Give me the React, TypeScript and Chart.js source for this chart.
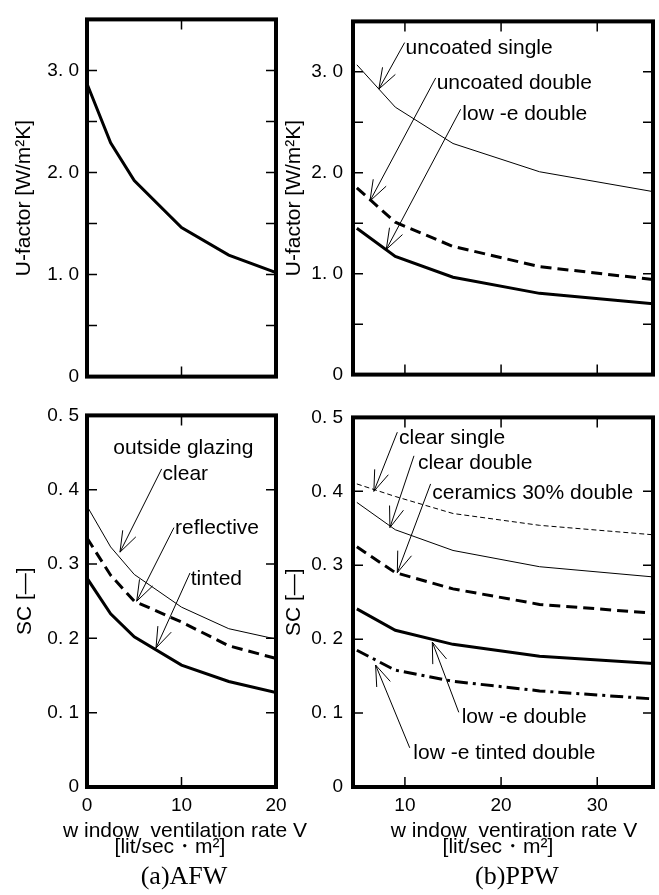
import React, { useEffect, useRef } from 'react';
import { Chart, registerables } from 'chart.js';

Chart.register(...registerables);

// ---------------- data ----------------
// (a) AFW
const AFW_V = [0, 2.5, 5, 10, 15, 20];
const AFW_U = [2.87, 2.29, 1.92, 1.46, 1.19, 1.02];
const AFW_SC_CLEAR = [0.378, 0.323, 0.286, 0.242, 0.213, 0.199];
const AFW_SC_REFLECTIVE = [0.335, 0.285, 0.25, 0.222, 0.19, 0.173];
const AFW_SC_TINTED = [0.281, 0.233, 0.202, 0.164, 0.142, 0.127];

// (b) PPW
const PPW_V = [5, 9, 15, 24, 36];
const PPW_U_UNCOATED_SINGLE = [3.07, 2.65, 2.29, 2.01, 1.81];
const PPW_U_UNCOATED_DOUBLE = [1.85, 1.51, 1.27, 1.07, 0.94];
const PPW_U_LOWE_DOUBLE = [1.45, 1.17, 0.965, 0.805, 0.7];
const PPW_SC_CLEAR_SINGLE = [0.41, 0.393, 0.37, 0.354, 0.341];
const PPW_SC_CLEAR_DOUBLE = [0.385, 0.348, 0.32, 0.298, 0.284];
const PPW_SC_CERAMICS = [0.325, 0.29, 0.268, 0.247, 0.235];
const PPW_SC_LOWE_DOUBLE = [0.241, 0.212, 0.193, 0.177, 0.167];
const PPW_SC_LOWE_TINTED = [0.185, 0.158, 0.143, 0.13, 0.119];

// ticks
const U_TICKS = [0, 0.5, 1, 1.5, 2, 2.5, 3, 3.5];
const U_TICK_LABELS = ['0', '', '1. 0', '', '2. 0', '', '3. 0', ''];
const SC_TICKS = [0, 0.1, 0.2, 0.3, 0.4, 0.5];
const SC_TICK_LABELS = ['0', '0. 1', '0. 2', '0. 3', '0. 4', '0. 5'];
const AFW_X_TICKS = [0, 10, 20];
const AFW_X_LABELS = ['0', '10', '20'];
const PPW_X_TICKS = [10, 20, 30];
const PPW_X_LABELS = ['10', '20', '30'];

// annotation texts (label anchor / arrow start / arrow tip, in axis units)
const PPW_U_NOTES = [
  { text: 'uncoated single', at: [10.07, 3.18], from: [9.97, 3.29], to: [7.29, 2.83] },
  { text: 'uncoated double', at: [13.3, 2.83], from: [13.2, 2.94], to: [6.36, 1.72] },
  { text: 'low -e double', at: [15.97, 2.52], from: [15.8, 2.63], to: [8.06, 1.24] },
];
const AFW_SC_NOTES = [
  { text: 'outside glazing', at: [2.79, 0.448] },
  { text: 'clear', at: [8.0, 0.4135], from: [7.9, 0.428], to: [3.49, 0.316] },
  { text: 'reflective', at: [9.31, 0.34], from: [9.2, 0.349], to: [5.26, 0.25] },
  { text: 'tinted', at: [10.97, 0.272], from: [10.9, 0.288], to: [7.3, 0.187] },
];
const PPW_SC_NOTES = [
  { text: 'clear single', at: [9.38, 0.4645], from: [9.21, 0.48], to: [6.77, 0.4] },
  { text: 'clear double', at: [11.35, 0.43], from: [10.94, 0.448], to: [8.44, 0.351] },
  { text: 'ceramics 30% double', at: [12.85, 0.39], from: [12.67, 0.41], to: [9.21, 0.29] },
  { text: 'low -e double', at: [15.9, 0.086], from: [15.6, 0.101], to: [12.85, 0.196] },
  { text: 'low -e tinted double', at: [10.87, 0.038], from: [10.5, 0.053], to: [6.95, 0.165] },
];

// ---------------- styles ----------------
const SANS = '"Liberation Sans", Arial, Helvetica, sans-serif';
const SERIF = '"Liberation Serif", "Times New Roman", Times, serif';
const THIN = { borderWidth: 1 };
const THICK = { borderWidth: 3 };
const DASHED = { borderWidth: 3, borderDash: [11, 6] };
const SHORTDASH = { borderWidth: 1, borderDash: [5, 3] };
const DASHDOT = { borderWidth: 3, borderDash: [13, 5, 3, 5] };

type Note = { text: string; at: number[]; from?: number[]; to?: number[] };
type Caption = { text: string; dx: number; dy: number; font: string };

const framePlugin = {
  id: 'frame',
  afterDatasetsDraw(chart: any) {
    const { ctx, chartArea: a, scales } = chart;
    const xs = scales.x;
    const ys = scales.y;
    const L = 10;
    ctx.save();
    ctx.strokeStyle = '#000';
    ctx.lineWidth = 1.5;
    ctx.beginPath();
    xs.ticks.forEach((t: any) => {
      const px = xs.getPixelForValue(t.value);
      ctx.moveTo(px, a.top);
      ctx.lineTo(px, a.top + L);
      ctx.moveTo(px, a.bottom);
      ctx.lineTo(px, a.bottom - L);
    });
    ys.ticks.forEach((t: any) => {
      const py = ys.getPixelForValue(t.value);
      ctx.moveTo(a.left, py);
      ctx.lineTo(a.left + L, py);
      ctx.moveTo(a.right, py);
      ctx.lineTo(a.right - L, py);
    });
    ctx.stroke();
    ctx.lineWidth = 4;
    ctx.strokeRect(a.left, a.top, a.right - a.left, a.bottom - a.top);
    ctx.restore();
  },
};

function notesPlugin(notes: Note[], captions: Caption[]) {
  return {
    id: 'notes',
    afterDraw(chart: any) {
      const { ctx, chartArea: a, scales } = chart;
      const xs = scales.x;
      const ys = scales.y;
      ctx.save();
      ctx.fillStyle = '#000';
      ctx.strokeStyle = '#000';
      ctx.lineWidth = 1;
      ctx.font = '21px ' + SANS;
      ctx.textAlign = 'left';
      ctx.textBaseline = 'alphabetic';
      notes.forEach((n) => {
        ctx.fillText(n.text, xs.getPixelForValue(n.at[0]), ys.getPixelForValue(n.at[1]));
        if (n.from && n.to) {
          const x1 = xs.getPixelForValue(n.from[0]);
          const y1 = ys.getPixelForValue(n.from[1]);
          const x2 = xs.getPixelForValue(n.to[0]);
          const y2 = ys.getPixelForValue(n.to[1]);
          const ang = Math.atan2(y1 - y2, x1 - x2);
          const len = 22;
          const h = 0.34;
          ctx.beginPath();
          ctx.moveTo(x1, y1);
          ctx.lineTo(x2, y2);
          ctx.moveTo(x2 + len * Math.cos(ang + h), y2 + len * Math.sin(ang + h));
          ctx.lineTo(x2, y2);
          ctx.lineTo(x2 + len * Math.cos(ang - h), y2 + len * Math.sin(ang - h));
          ctx.stroke();
        }
      });
      ctx.textAlign = 'center';
      const cx = (a.left + a.right) / 2;
      captions.forEach((c) => {
        ctx.font = c.font;
        ctx.fillText(c.text, cx + c.dx, a.bottom + c.dy);
      });
      ctx.restore();
    },
  };
}

type Series = { values: number[]; style: any };
type Panel = {
  left: number; top: number; w: number; h: number;
  yWidth: number; padTop: number; padRight: number; xHeight: number;
  xs: number[]; series: Series[];
  xMin: number; xMax: number; xTicks: number[]; xLabels: string[]; showX: boolean;
  yMin: number; yMax: number; yTicks: number[]; yLabels: string[]; yLabelPad: number;
  yTitle: string; yTitlePad: number;
  notes: Note[]; captions: Caption[];
};

const PANELS: Panel[] = [
  {
    left: 0, top: 0, w: 330, h: 396, yWidth: 87, padTop: 7, padRight: 54, xHeight: 10,
    xs: AFW_V, series: [{ values: AFW_U, style: THICK }],
    xMin: 0, xMax: 20, xTicks: AFW_X_TICKS, xLabels: AFW_X_LABELS, showX: false,
    yMin: 0, yMax: 3.5, yTicks: U_TICKS, yLabels: U_TICK_LABELS, yLabelPad: 8,
    yTitle: 'U-factor [W/m²K]', yTitlePad: 11.4, notes: [], captions: [],
  },
  {
    left: 280, top: 0, w: 379, h: 396, yWidth: 73, padTop: 7, padRight: 6, xHeight: 10,
    xs: PPW_V,
    series: [
      { values: PPW_U_UNCOATED_SINGLE, style: THIN },
      { values: PPW_U_UNCOATED_DOUBLE, style: DASHED },
      { values: PPW_U_LOWE_DOUBLE, style: THICK },
    ],
    xMin: 4.6, xMax: 35.8, xTicks: PPW_X_TICKS, xLabels: PPW_X_LABELS, showX: false,
    yMin: 0, yMax: 3.5, yTicks: U_TICKS, yLabels: U_TICK_LABELS, yLabelPad: 10,
    yTitle: 'U-factor [W/m²K]', yTitlePad: 1.4, notes: PPW_U_NOTES, captions: [],
  },
  {
    left: 0, top: 396, w: 330, h: 499, yWidth: 87, padTop: 11, padRight: 54, xHeight: 108,
    xs: AFW_V,
    series: [
      { values: AFW_SC_CLEAR, style: THIN },
      { values: AFW_SC_REFLECTIVE, style: DASHED },
      { values: AFW_SC_TINTED, style: THICK },
    ],
    xMin: 0, xMax: 20, xTicks: AFW_X_TICKS, xLabels: AFW_X_LABELS, showX: true,
    yMin: 0, yMax: 0.5, yTicks: SC_TICKS, yLabels: SC_TICK_LABELS, yLabelPad: 8,
    yTitle: 'SC [—]', yTitlePad: 13, notes: AFW_SC_NOTES,
    captions: [
      { text: 'w indow  ventilation rate V', dx: 3.5, dy: 50, font: '21px ' + SANS },
      { text: '[lit/sec・m²]', dx: -11.5, dy: 66, font: '21px ' + SANS },
      { text: '(a)AFW', dx: 2.5, dy: 97, font: '26px ' + SERIF },
    ],
  },
  {
    left: 280, top: 396, w: 379, h: 499, yWidth: 73, padTop: 11, padRight: 6, xHeight: 108,
    xs: PPW_V,
    series: [
      { values: PPW_SC_CLEAR_SINGLE, style: SHORTDASH },
      { values: PPW_SC_CLEAR_DOUBLE, style: THIN },
      { values: PPW_SC_CERAMICS, style: DASHED },
      { values: PPW_SC_LOWE_DOUBLE, style: THICK },
      { values: PPW_SC_LOWE_TINTED, style: DASHDOT },
    ],
    xMin: 4.6, xMax: 35.8, xTicks: PPW_X_TICKS, xLabels: PPW_X_LABELS, showX: true,
    yMin: 0, yMax: 0.5, yTicks: SC_TICKS, yLabels: SC_TICK_LABELS, yLabelPad: 10,
    yTitle: 'SC [—]', yTitlePad: 1.4, notes: PPW_SC_NOTES,
    captions: [
      { text: 'w indow  ventiration rate V', dx: 11, dy: 50, font: '21px ' + SANS },
      { text: '[lit/sec・m²]', dx: -5, dy: 66, font: '21px ' + SANS },
      { text: '(b)PPW', dx: 14, dy: 97, font: '26px ' + SERIF },
    ],
  },
];

function makeChart(canvas: HTMLCanvasElement, p: Panel) {
  return new Chart(canvas, {
    type: 'line',
    data: {
      datasets: p.series.map((s) => ({
        data: p.xs.map((x, i) => ({ x, y: s.values[i] })),
        borderColor: '#000',
        backgroundColor: '#000',
        pointRadius: 0,
        fill: false,
        tension: 0,
        ...s.style,
      })),
    },
    options: {
      responsive: false,
      maintainAspectRatio: false,
      animation: false,
      events: [],
      layout: { padding: { top: p.padTop, right: p.padRight, left: 0, bottom: 0 } },
      plugins: { legend: { display: false }, tooltip: { enabled: false }, title: { display: false } },
      scales: {
        x: {
          type: 'linear',
          position: 'bottom',
          min: p.xMin,
          max: p.xMax,
          afterBuildTicks: (s: any) => { s.ticks = p.xTicks.map((v) => ({ value: v })); },
          afterFit: (s: any) => { s.height = p.xHeight; },
          grid: { display: false, drawTicks: false },
          border: { display: false },
          ticks: {
            display: p.showX,
            autoSkip: false,
            maxRotation: 0,
            padding: 7,
            color: '#000',
            font: { family: SANS, size: 19 },
            callback: (_v: any, i: number) => p.xLabels[i],
          },
        },
        y: {
          type: 'linear',
          position: 'left',
          min: p.yMin,
          max: p.yMax,
          afterBuildTicks: (s: any) => { s.ticks = p.yTicks.map((v) => ({ value: v })); },
          afterFit: (s: any) => { s.width = p.yWidth; },
          grid: { display: false, drawTicks: false },
          border: { display: false },
          ticks: {
            autoSkip: false,
            padding: p.yLabelPad,
            color: '#000',
            font: { family: SANS, size: 19 },
            callback: (_v: any, i: number) => p.yLabels[i],
          },
          title: {
            display: true,
            text: p.yTitle,
            color: '#000',
            font: { family: SANS, size: 21 },
            padding: { top: p.yTitlePad, bottom: 0 },
          },
        },
      },
    } as any,
    plugins: [framePlugin, notesPlugin(p.notes, p.captions)],
  });
}

export default function App() {
  const refs = useRef<(HTMLCanvasElement | null)[]>([]);
  useEffect(() => {
    const charts = PANELS.map((p, i) => makeChart(refs.current[i] as HTMLCanvasElement, p));
    return () => charts.forEach((c) => c.destroy());
  }, []);
  return (
    <div style={{ position: 'absolute', left: 0, top: 0, width: 659, height: 895, background: '#fff' }}>
      {PANELS.map((p, i) => (
        <canvas
          key={i}
          ref={(el) => { refs.current[i] = el; }}
          width={p.w}
          height={p.h}
          style={{ position: 'absolute', left: p.left, top: p.top, width: p.w, height: p.h }}
        />
      ))}
    </div>
  );
}
